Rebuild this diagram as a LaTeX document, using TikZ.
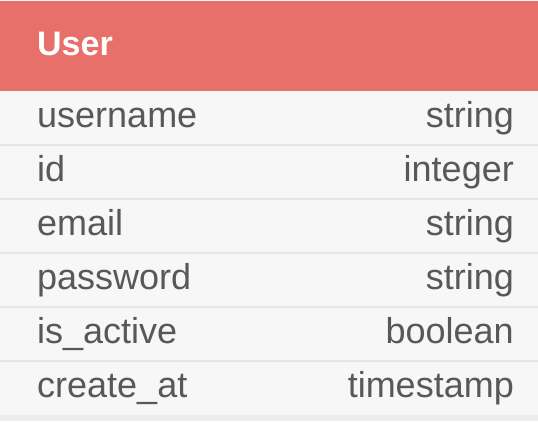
\documentclass[tikz,border=0pt]{standalone}
\usepackage{fontspec}
\setmainfont{Liberation Sans}
\usepackage{tikz}
\definecolor{headred}{HTML}{E8706A}
\definecolor{rowbg}{HTML}{F7F7F7}
\definecolor{rowline}{HTML}{E6E6E6}
\definecolor{fieldtext}{HTML}{585858}
\tikzset{
  title/.style  = {anchor=base west, inner sep=0pt, text=white,
                   font=\fontsize{34}{40}\selectfont\bfseries},
  field/.style  = {anchor=base west, inner sep=0pt, text=fieldtext,
                   font=\fontsize{36}{40}\selectfont},
  ftype/.style  = {anchor=base east, inner sep=0pt, text=fieldtext,
                   font=\fontsize{36}{40}\selectfont},
  sepline/.style = {draw=rowline, line width=1.2pt}
}

\begin{document}
\begin{tikzpicture}[x=1pt,y=-1pt]
  \useasboundingbox (0,0) rectangle (538,421);
  \fill[rowbg] (0,0) rectangle (538,421);
  \fill[rowline!70] (0,415) rectangle (538,421);
  \fill[headred] (0,1) rectangle (538,91);

  \node[title] (user) at (37,55) {User};

  \node[field] (username) at (37,127) {username};
  \node[ftype] (usernametype) at (514,127) {string};
  \node[field] (id) at (37,181) {id};
  \node[ftype] (idtype) at (514,181) {integer};
  \node[field] (email) at (37,235) {email};
  \node[ftype] (emailtype) at (514,235) {string};
  \node[field] (password) at (37,289) {password};
  \node[ftype] (passwordtype) at (514,289) {string};
  \node[field] (isactive) at (37,343) {is\_active};
  \node[ftype] (isactivetype) at (514,343) {boolean};
  \node[field] (createat) at (37,397) {create\_at};
  \node[ftype] (createattype) at (514,397) {timestamp};

  \draw[sepline] (0,145) -- (538,145);
  \draw[sepline] (0,199) -- (538,199);
  \draw[sepline] (0,253) -- (538,253);
  \draw[sepline] (0,307) -- (538,307);
  \draw[sepline] (0,361) -- (538,361);
\end{tikzpicture}
\end{document}
